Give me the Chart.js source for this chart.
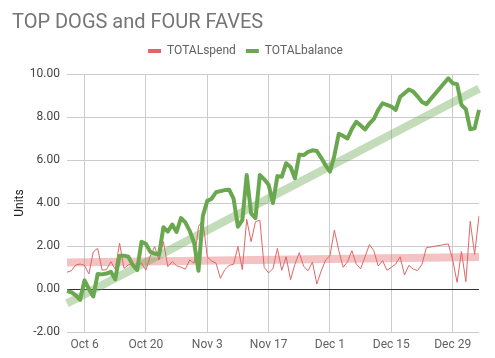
<!DOCTYPE html>
<html>
<head>
<meta charset="utf-8">
<script src="https://cdn.jsdelivr.net/npm/chart.js@4.4.0/dist/chart.umd.min.js"></script>
<style>
html,body{margin:0;padding:0;background:#fff;}
#wrap{width:495px;height:358px;position:relative;}
</style>
</head>
<body>
<div id="wrap"><canvas id="c" width="495" height="358"></canvas></div>
<script>
const categories = [
"Oct 2","Oct 3","Oct 4","Oct 5","Oct 6","Oct 7","Oct 8","Oct 9","Oct 10","Oct 11","Oct 12","Oct 13","Oct 14","Oct 15","Oct 16","Oct 17","Oct 18","Oct 19","Oct 20","Oct 21","Oct 22","Oct 23","Oct 24","Oct 25","Oct 26","Oct 27","Oct 28","Oct 29","Oct 30","Oct 31",
"Nov 1","Nov 2","Nov 3","Nov 4","Nov 5","Nov 6","Nov 7","Nov 8","Nov 9","Nov 10","Nov 11","Nov 12","Nov 13","Nov 14","Nov 15","Nov 16","Nov 17","Nov 18","Nov 19","Nov 20","Nov 21","Nov 22","Nov 23","Nov 24","Nov 25","Nov 26","Nov 27","Nov 28","Nov 29","Nov 30",
"Dec 1","Dec 2","Dec 3","Dec 4","Dec 5","Dec 6","Dec 7","Dec 8","Dec 9","Dec 10","Dec 11","Dec 12","Dec 13","Dec 14","Dec 15","Dec 16","Dec 17","Dec 18","Dec 19","Dec 20","Dec 21","Dec 22","Dec 23","Dec 24","Dec 25","Dec 26","Dec 27","Dec 28","Dec 29","Dec 30","Dec 31",
"Jan 1","Jan 2","Jan 3","Jan 4"];

const tickLabels = ["Oct 6","Oct 20","Nov 3","Nov 17","Dec 1","Dec 15","Dec 29"];

const totalSpend = [
0.78,0.85,1.12,1.16,1.10,0.70,1.73,1.89,0.88,0.90,1.27,0.93,2.13,0.96,1.12,1.16,1.04,1.20,0.88,1.53,
1.97,1.35,2.20,1.04,1.28,1.08,1.02,0.92,1.35,1.20,2.90,3.20,1.50,1.30,1.20,0.50,0.90,1.10,1.15,1.97,
0.90,3.24,2.20,3.13,3.20,1.00,0.75,0.95,1.89,0.87,1.50,0.43,1.15,1.69,1.05,0.85,1.25,0.23,0.84,1.35,
1.55,2.74,1.80,1.01,1.27,1.78,1.16,0.94,1.50,2.07,1.78,1.07,1.32,0.87,1.01,1.16,1.50,0.65,1.10,0.92,
0.86,1.15,1.92,null,null,null,null,2.10,1.35,0.31,1.74,0.34,3.15,1.61,3.40];

const totalBalance = [
-0.10,-0.15,-0.30,-0.50,0.40,0.00,-0.35,0.70,0.68,0.72,0.80,0.45,1.55,1.55,1.50,1.12,0.88,2.20,2.10,1.73,
1.65,1.60,2.87,2.67,3.00,2.65,3.30,3.10,2.70,2.15,0.85,3.40,4.10,4.20,4.50,4.55,4.60,4.62,4.20,2.90,
3.20,5.30,3.52,3.30,5.30,5.10,4.85,4.00,5.25,5.22,5.85,5.67,5.15,6.25,6.23,6.38,6.45,6.42,6.10,5.75,
5.46,6.20,7.22,7.12,7.00,7.45,7.78,7.60,7.42,7.70,7.90,8.33,8.64,8.56,8.48,8.33,8.94,9.10,9.28,9.18,
8.95,8.70,8.60,null,null,null,null,9.80,9.57,9.53,8.56,8.36,7.43,7.47,8.33];

// trendline end values (first day, last day)
const spendTrendEnds = [1.23, 1.49];
const balanceTrendEnds = [-0.67, 9.32];

const yTicks = [-2, 0, 2, 4, 6, 8, 10];

function endsToSeries(ends){
  const out = categories.map(() => null);
  out[0] = ends[0]; out[categories.length - 1] = ends[1];
  return out;
}
const tickIdx = tickLabels.map(l => categories.indexOf(l));

const RED = '#e06666', GREEN = '#6aa84f';

new Chart(document.getElementById('c'), {
  type: 'line',
  data: {
    labels: categories,
    datasets: [
      {label:'TOTALspend', data: totalSpend, borderColor: RED, backgroundColor: RED, borderWidth: 1, pointRadius: 0, tension: 0, spanGaps: true, order: 1, borderJoinStyle:'round'},
      {label:'TOTALbalance', data: totalBalance, borderColor: GREEN, backgroundColor: GREEN, borderWidth: 4, pointRadius: 0, tension: 0, spanGaps: true, order: 0, borderJoinStyle:'round'},
      {label:'trendSpend', data: endsToSeries(spendTrendEnds), borderColor: 'rgba(224,102,102,0.4)', borderWidth: 8, pointRadius: 0, spanGaps: true, order: 3},
      {label:'trendBalance', data: endsToSeries(balanceTrendEnds), borderColor: 'rgba(106,168,79,0.4)', borderWidth: 8, pointRadius: 0, spanGaps: true, order: 2}
    ]
  },
  options: {
    responsive: false,
    animation: false,
    layout: {padding: {left: 12, right: 16, top: 0, bottom: 0}},
    plugins: {
      tooltip: {enabled: false},
      title: {
        display: true, text: 'TOP DOGS and FOUR FAVES', align: 'start',
        color: '#757575', font: {family: 'Roboto', size: 20, weight: 'normal'},
        padding: {top: 11, bottom: 0}
      },
      legend: {
        display: true, position: 'top', align: 'center',
        labels: {
          font: {family: 'Roboto', size: 12}, color: '#616161',
          boxWidth: 13, boxHeight: 4, padding: 10,
          filter: (item) => item.text.indexOf('trend') !== 0,
          sort: (a, b) => a.datasetIndex - b.datasetIndex,
          generateLabels: (chart) => {
            const items = Chart.defaults.plugins.legend.labels.generateLabels(chart);
            items.forEach(it => { it.lineWidth = 0; });
            return items;
          }
        }
      }
    },
    scales: {
      x: {
        type: 'category',
        afterBuildTicks: (s) => { s.ticks = tickIdx.map(i => ({value: i})); },
        grid: {color: '#cccccc', drawTicks: false, lineWidth: 1},
        border: {display: false},
        ticks: {
          autoSkip: false, maxRotation: 0, padding: 6,
          color: '#616161', font: {family: 'Roboto', size: 12}
        },
        afterFit: (s) => { s.height = 26; }
      },
      xTop: {
        type: 'category', position: 'top', display: true,
        grid: {display: false, drawTicks: false}, border: {display: false},
        ticks: {display: false},
        afterFit: (s) => { s.height = 7; }
      },
      y: {
        min: -2, max: 10,
        afterBuildTicks: (s) => { s.ticks = yTicks.map(v => ({value: v})); },
        grid: {
          color: (ctx) => (ctx.tick && ctx.tick.value === 0) ? '#333333' : '#cccccc',
          drawTicks: false
        },
        border: {display: false},
        ticks: {
          padding: 7, color: '#444444', font: {family: 'Roboto', size: 12},
          callback: (v) => Number(v).toFixed(2)
        },
        title: {display: true, text: 'Units', color: '#222222', font: {family: 'Roboto', size: 12}, padding: {top: 1, bottom: 0}},
        afterFit: (s) => { s.width = 55; }
      }
    }
  }
});
</script>
</body>
</html>
